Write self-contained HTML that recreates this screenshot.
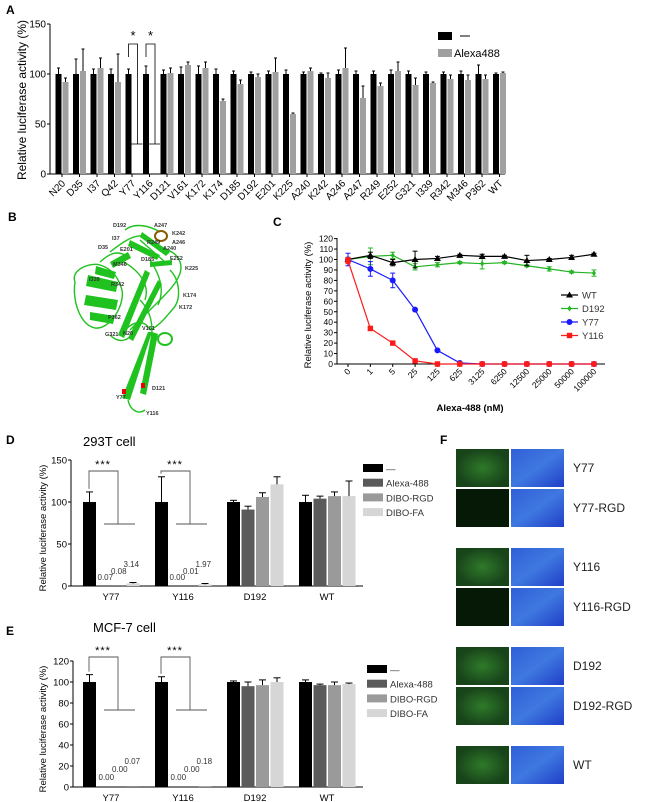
<!DOCTYPE html>
<html><head><meta charset="utf-8"><style>
body{margin:0;background:#fff}
svg{display:block;font-family:"Liberation Sans",sans-serif}
</style></head><body>
<svg id="fig" width="646" height="802" viewBox="0 0 646 802" xmlns="http://www.w3.org/2000/svg">
<g id="pA"></g>
<g id="pB"></g>
<g id="pC"></g>
<g id="pD"></g>
<g id="pE"></g>
<g id="pF"></g>
</svg>
<script>
// ---- Panel A data
const aCats=["N20","D35","I37","Q42","Y77","Y116","D121","V161","K172","K174","D185","D192","E201","K225","A240","K242","A246","A247","R249","E252","G321","I339","R342","M346","P362","WT"];
const aBlack=[100,100,100,100,100,100,100,100,100,100,100,100,100,100,100,100,100,100,100,100,100,100,100,100,100,100];
const aBlackErr=[6,15,5,5,5,8,4,7,8,5,3,2,3,4,2,1,4,3,3,4,3,2,2,3,9,1];
const aGrey=[92,103,106,92,0,0,101,109,106,73,90,97,102,60,103,96,106,76,88,103,89,91,95,94,95,101];
const aGreyErr=[4,22,10,28,0,0,5,3,6,2,4,3,14,1,3,5,20,12,3,9,7,1,4,5,4,1];
const aTicks=[0,50,100,150];
// ---- Panel C data
const cCats=["0","1","5","25","125","625","3125","6250","12500","25000","50000","100000"];
const cWT=[100,104,97,100,101,104,103,103,99,100,102,105];
const cWTErr=[2,3,3,8,2,1,2,1,5,1,2,1];
const cD192=[100,103,104,93,95,97,96,97,94,91,88,87];
const cD192Err=[2,8,3,3,2,1,5,1,1,2,1,3];
const cY77=[100,91,80,52,13,1,0,0,0,0,0,0];
const cY77Err=[6,7,7,1,1,0,0,0,0,0,0,0];
const cY116=[99,34,20,3,0,0,0,0,0,0,0,0];
const cY116Err=[3,2,1,1,0,0,0,0,0,0,0,0];
const cTicks=[0,10,20,30,40,50,60,70,80,90,100,110,120];
// ---- Panel D data
const dCats=["Y77","Y116","D192","WT"];
const dSeries=["—","Alexa-488","DIBO-RGD","DIBO-FA"];
const dCtrl=[100,100,100,100];
const dCtrlErr=[12,30,2,8];
const dAlexa=[0.07,0.00,91,104];
const dAlexaErr=[0,0,4,3];
const dRGD=[0.08,0.01,106,107];
const dRGDErr=[0,0,5,5];
const dFA=[3.14,1.97,121,107];
const dFAErr=[1,1,9,18];
const dTicks=[0,50,100,150];
// ---- Panel E data
const eCtrl=[100,100,100,100];
const eCtrlErr=[7,5,1,2];
const eAlexa=[0.00,0.00,96,97];
const eAlexaErr=[0,0,4,1];
const eRGD=[0.00,0.00,97,97];
const eRGDErr=[0,0,5,3];
const eFA=[0.07,0.18,100,98];
const eFAErr=[0,0,4,1];
const eTicks=[0,20,40,60,80,100,120];
// ---- Panel F labels
const fLabels=["Y77","Y77-RGD","Y116","Y116-RGD","D192","D192-RGD","WT"];
const fGreen=[true,false,true,false,true,true,true];

const NS="http://www.w3.org/2000/svg";
function mk(p,tag,at,txt){const e=document.createElementNS(NS,tag);for(const k in at)e.setAttribute(k,at[k]);if(txt!==undefined)e.textContent=txt;p.appendChild(e);return e;}

[["A",6,14,"pA"],["B",8,221,"pB"],["C",273,226,"pC"],["D",6,444,"pD"],["E",6,635,"pE"],["F",440,444,"pF"]].forEach(l=>{
 const t=mk(document.getElementById(l[3]),"text",{x:l[1],y:l[2],"font-size":12,"font-weight":"bold"},l[0]);
 
 
});

// ===== Panel A
(function(){
 const g=document.getElementById("pA");
 const x0=50,x1=505,yA=v=>174-v*1.0;
 const cx=i=>62+i*17.5;
 mk(g,"line",{x1:x0,y1:24,x2:x0,y2:174,stroke:"#000","stroke-width":1});
 mk(g,"line",{x1:x0,y1:174,x2:x1,y2:174,stroke:"#000","stroke-width":1});
 aTicks.forEach(v=>{mk(g,"line",{x1:x0-3,y1:yA(v),x2:x0,y2:yA(v),stroke:"#000"});
  const t=mk(g,"text",{x:x0-4,y:yA(v)+3.5,"font-size":10,"text-anchor":"end"},v);
  });
 const yt=mk(g,"text",{x:0,y:0,"font-size":12,"text-anchor":"middle",transform:"translate(26,100) rotate(-90)"},"Relative luciferase activity (%)");
 
 aCats.forEach((c,i)=>{
  const xb=cx(i)-6.5,xg=cx(i)+0.5;
  const b=mk(g,"rect",{x:xb,y:yA(aBlack[i]),width:6,height:aBlack[i],fill:"#000"});
  
  mk(g,"line",{x1:xb+3,y1:yA(aBlack[i]),x2:xb+3,y2:yA(aBlack[i]+aBlackErr[i]),stroke:"#000"});
  mk(g,"line",{x1:xb+1.5,y1:yA(aBlack[i]+aBlackErr[i]),x2:xb+4.5,y2:yA(aBlack[i]+aBlackErr[i]),stroke:"#000"});
  if(aGrey[i]>0){
   const r=mk(g,"rect",{x:xg,y:yA(aGrey[i]),width:6,height:aGrey[i],fill:"#a0a0a0"});
   
   mk(g,"line",{x1:xg+3,y1:yA(aGrey[i]),x2:xg+3,y2:yA(aGrey[i]+aGreyErr[i]),stroke:"#000"});
   mk(g,"line",{x1:xg+1.5,y1:yA(aGrey[i]+aGreyErr[i]),x2:xg+4.5,y2:yA(aGrey[i]+aGreyErr[i]),stroke:"#000"});
  }
  mk(g,"line",{x1:cx(i),y1:174,x2:cx(i),y2:177,stroke:"#000"});
  const t=mk(g,"text",{x:0,y:0,"font-size":10,"text-anchor":"end",transform:`translate(${cx(i)+4},184) rotate(-45)`},c);
  
  if(aGrey[i]===0){
   const xs=xb+3;
   mk(g,"path",{d:`M${xs} ${yA(117)} V${yA(130)} H${xs+9} V${yA(30)}`,fill:"none",stroke:"#000","stroke-width":0.8});
   mk(g,"line",{x1:xs+2,y1:yA(30),x2:xs+14,y2:yA(30),stroke:"#000","stroke-width":0.8});
   const s=mk(g,"text",{x:xs+4.5,y:yA(134),"font-size":13,"text-anchor":"middle"},"*");
   
  }
 });
 mk(g,"rect",{x:438,y:32,width:14,height:8,fill:"#000"});
 mk(g,"line",{x1:460,y1:36,x2:470,y2:36,stroke:"#000"});
 mk(g,"rect",{x:438,y:49,width:14,height:8,fill:"#a0a0a0"});
 const l=mk(g,"text",{x:454,y:57,"font-size":11},"Alexa488");
 
})();

// ===== Panel B structure (schematic)
(function(){
 const g=document.getElementById("pB");
 const gr="#1fc21f";
 const paths=[
  "M75 282 C70 270 90 262 100 265 C110 268 118 275 122 290 C125 305 110 330 95 328 C80 325 72 300 75 282Z",
  "M110 252 C125 240 140 230 150 240 C160 250 175 248 180 262 C185 275 170 290 160 300 C150 310 140 320 130 330",
  "M125 230 C135 222 150 226 160 232 M140 240 L165 262 M120 260 C140 270 150 285 145 300",
  "M140 300 C150 310 155 325 150 345 M125 330 C135 320 145 320 150 330 M110 335 C120 345 130 340 135 330",
  "M170 270 C180 280 182 300 172 310 C165 318 160 325 150 330",
  "M150 260 C160 275 165 290 158 305 M100 262 C108 255 115 250 125 255 M128 400 C130 410 138 415 145 410"
 ];
 paths.forEach(d=>mk(g,"path",{d:d,fill:"none",stroke:gr,"stroke-width":1.4}));
 mk(g,"path",{d:"M88 275 L118 282 L116 292 L86 286Z M86 295 L118 300 L116 310 L84 305Z M90 312 L115 316 L113 324 L90 320Z M96 266 L116 272 L114 279 L95 274Z",fill:gr});
 mk(g,"path",{d:"M118 335 L145 270 L150 273 L124 338Z M128 338 L158 280 L162 284 L133 341Z M110 262 L128 252 L131 258 L113 268Z",fill:gr});
 mk(g,"path",{d:"M148 332 L152 332 L130 400 L122 398Z M152 332 L158 334 L146 395 L140 393Z",fill:gr});
 mk(g,"path",{d:"M130 240 L160 255 L157 260 L128 246Z M142 232 L170 252 L166 256 L140 237Z M150 262 L172 260 L172 265 L150 267Z",fill:gr});
 mk(g,"ellipse",{cx:165,cy:339,rx:7,ry:6,fill:"none",stroke:gr,"stroke-width":2});
 mk(g,"ellipse",{cx:161,cy:236,rx:6,ry:5,fill:"none",stroke:"#8a5a00","stroke-width":2});
 mk(g,"rect",{x:122,y:389,width:4,height:5,fill:"#e00"});
 mk(g,"rect",{x:141,y:383,width:4,height:5,fill:"#e00"});
 const labs=[["D192",113,227],["A247",154,227],["K242",172,235],["I37",112,240],["R249",147,244],["A246",172,244],["D35",98,249],["E201",120,251],["A240",163,250],["D185",141,261],["E252",170,260],["K225",185,270],["M346",113,266],["I339",89,281],["R342",111,286],["K174",183,297],["K172",179,309],["P362",108,319],["V161",142,330],["G321",105,336],["N20",123,335],["D121",152,390],["Y77",116,399],["Y116",146,415]];
 labs.forEach(l=>{const t=mk(g,"text",{x:l[1],y:l[2],"font-size":5.5,"font-weight":"bold",fill:"#333"},l[0]);
  });
})();

// ===== Panel C
(function(){
 const g=document.getElementById("pC");
 const yC=v=>364-v*1.045, cx=i=>348+i*22.36;
 mk(g,"line",{x1:337,y1:238,x2:337,y2:364,stroke:"#000"});
 mk(g,"line",{x1:337,y1:364,x2:605,y2:364,stroke:"#000"});
 cTicks.forEach(v=>{mk(g,"line",{x1:334,y1:yC(v),x2:337,y2:yC(v),stroke:"#000"});
  const t=mk(g,"text",{x:333,y:yC(v)+3,"font-size":8.5,"text-anchor":"end"},v);
  });
 cCats.forEach((c,i)=>{mk(g,"line",{x1:cx(i),y1:364,x2:cx(i),y2:367,stroke:"#000"});
  const t=mk(g,"text",{x:0,y:0,"font-size":8.5,"text-anchor":"end",transform:`translate(${cx(i)+3},372) rotate(-45)`},c);
  });
 const yt=mk(g,"text",{x:0,y:0,"font-size":9.5,"text-anchor":"middle",transform:"translate(311,305) rotate(-90)"},"Relative luciferase activity (%)");
 
 const xt=mk(g,"text",{x:470,y:411,"font-size":9.5,"text-anchor":"middle","font-weight":"bold"},"Alexa-488 (nM)");
 
 const series=[[cD192,cD192Err,"#22b422","d192","diamond"],[cWT,cWTErr,"#000","wt","tri"],[cY77,cY77Err,"#1a1aff","y77","circle"],[cY116,cY116Err,"#ff1a1a","y116","square"]];
 function marker(p,x,y,col,shape){
  if(shape==="tri")return mk(p,"path",{d:`M${x} ${y-3.5} L${x+3.5} ${y+2.5} L${x-3.5} ${y+2.5}Z`,fill:col});
  if(shape==="circle")return mk(p,"circle",{cx:x,cy:y,r:3,fill:col});
  if(shape==="square")return mk(p,"rect",{x:x-2.7,y:y-2.7,width:5.4,height:5.4,fill:col});
  return mk(p,"path",{d:`M${x} ${y-3} L${x+2} ${y} L${x} ${y+3} L${x-2} ${y}Z`,fill:col});
 }
 series.forEach(s=>{
  const pts=s[0].map((v,i)=>cx(i)+","+yC(v)).join(" ");
  const pl=mk(g,"polyline",{points:pts,fill:"none",stroke:s[2],"stroke-width":1.2});
  
  s[0].forEach((v,i)=>{
   if(s[1][i]>0){mk(g,"line",{x1:cx(i),y1:yC(v-s[1][i]),x2:cx(i),y2:yC(v+s[1][i]),stroke:s[2]});
    mk(g,"line",{x1:cx(i)-2.5,y1:yC(v+s[1][i]),x2:cx(i)+2.5,y2:yC(v+s[1][i]),stroke:s[2]});
    mk(g,"line",{x1:cx(i)-2.5,y1:yC(v-s[1][i]),x2:cx(i)+2.5,y2:yC(v-s[1][i]),stroke:s[2]});}
   const m=marker(g,cx(i),yC(v),s[2],s[4]);
   
  });
 });
 [["WT","#000","tri"],["D192","#22b422","diamond"],["Y77","#1a1aff","circle"],["Y116","#ff1a1a","square"]].forEach((l,k)=>{
  const y=295+k*13.5;
  mk(g,"line",{x1:561,y1:y,x2:578,y2:y,stroke:l[1],"stroke-width":1.2});
  marker(g,569.5,y,l[1],l[2]);
  const t=mk(g,"text",{x:582,y:y+3.5,"font-size":9.5,fill:"#333"},l[0]);
  
 });
})();

// ===== Panels D/E
function barPanel(gid,y0,scale,ticks,axX,ser,errs,labelY,legY,legX,title,titleY,brTop,brBot,labOff){
 const g=document.getElementById(gid);
 const yv=v=>y0-v*scale;
 const topV=ticks[ticks.length-1];
 mk(g,"line",{x1:axX,y1:yv(topV),x2:axX,y2:y0,stroke:"#000"});
 mk(g,"line",{x1:axX,y1:y0,x2:363,y2:y0,stroke:"#000"});
 ticks.forEach(v=>{mk(g,"line",{x1:axX-3,y1:yv(v),x2:axX,y2:yv(v),stroke:"#000"});
  const t=mk(g,"text",{x:axX-4,y:yv(v)+3.5,"font-size":9.5,"text-anchor":"end"},v);
  });
 const yt=mk(g,"text",{x:0,y:0,"font-size":9.5,"text-anchor":"middle",transform:`translate(46,${(yv(topV)+y0)/2+5}) rotate(-90)`},"Relative luciferase activity (%)");
 
 const tt=mk(g,"text",{x:title[1],y:titleY,"font-size":13},title[0]);
 
 const cols=["#000","#5a5a5a","#9a9a9a","#d6d6d6"];
 dCats.forEach((c,gi)=>{
  const gx=83+gi*72;
  ser.forEach((arr,si)=>{
   const v=arr[gi],x=gx+si*14.5,h=v*scale;
   const r=mk(g,"rect",{x:x,y:y0-h,width:13,height:h,fill:cols[si]});
   
   const e=errs[si][gi];
   if(e>0){mk(g,"line",{x1:x+6.5,y1:yv(v),x2:x+6.5,y2:yv(v+e),stroke:"#000"});
    mk(g,"line",{x1:x+3,y1:yv(v+e),x2:x+10,y2:yv(v+e),stroke:"#000"});}
   if(gi<2&&si>0){const t=mk(g,"text",{x:x+labOff[si-1][0],y:y0+labOff[si-1][1],"font-size":8,fill:"#333"},arr[gi].toFixed(2));
    }
  });
  const t=mk(g,"text",{x:gx+28,y:labelY,"font-size":9.5,"text-anchor":"middle"},c);
  
  if(gi<2){
   const xs=gx+6;
   mk(g,"path",{d:`M${xs} ${yv(ser[0][gi]+errs[0][gi])-3} V${brTop} H${xs+29} V${brBot}`,fill:"none",stroke:"#555","stroke-width":0.9});
   mk(g,"line",{x1:xs+15,y1:brBot,x2:xs+46,y2:brBot,stroke:"#555","stroke-width":0.9});
   const s=mk(g,"text",{x:xs+14,y:brTop-3,"font-size":11,"text-anchor":"middle","letter-spacing":"1"},"***");
   
  }
 });
 dSeries.forEach((s,k)=>{
  const y=legY+k*14.7;
  mk(g,"rect",{x:legX,y:y-4,width:20,height:8,fill:cols[k]});
  const t=mk(g,"text",{x:legX+23,y:y+4,"font-size":9.5,fill:"#333"},k===0?"—":s);
  
 });
}
barPanel("pD",586,0.84,dTicks,71,[dCtrl,dAlexa,dRGD,dFA],[dCtrlErr,dAlexaErr,dRGDErr,dFAErr],600,468,363,["293T cell",83],446,471,524,[[0,-6],[-1,-12],[-3,-19]]);
barPanel("pE",787,1.05,eTicks,73,[eCtrl,eAlexa,eRGD,eFA],[eCtrlErr,eAlexaErr,eRGDErr,eFAErr],801,669,367,["MCF-7 cell",93],632,657,710,[[1,-7],[0,-15],[-2,-23]]);

// ===== Panel F
(function(){
 const g=document.getElementById("pF");
 const defs=mk(g,"defs",{});
 const gg=mk(defs,"radialGradient",{id:"gfl"});
 mk(gg,"stop",{offset:"0","stop-color":"#2f7a2a"});mk(gg,"stop",{offset:"1","stop-color":"#18441a"});
 const bg=mk(defs,"linearGradient",{id:"bfl",x1:0,y1:0,x2:1,y2:1});
 mk(bg,"stop",{offset:"0","stop-color":"#2f5fd8"});mk(bg,"stop",{offset:"0.5","stop-color":"#3f78e0"});mk(bg,"stop",{offset:"1","stop-color":"#1f3fc8"});
 const ys=[449,489,548,588,647,687,746];
 fLabels.forEach((lab,i)=>{
  const a=mk(g,"rect",{x:456,y:ys[i],width:53,height:38,fill:fGreen[i]?"url(#gfl)":"#061806"});
  
  const b=mk(g,"rect",{x:511,y:ys[i],width:53,height:38,fill:"url(#bfl)"});
  
  const t=mk(g,"text",{x:573,y:ys[i]+23,"font-size":12,fill:"#222"},lab);
  
 });
})();
</script>
</body></html>
